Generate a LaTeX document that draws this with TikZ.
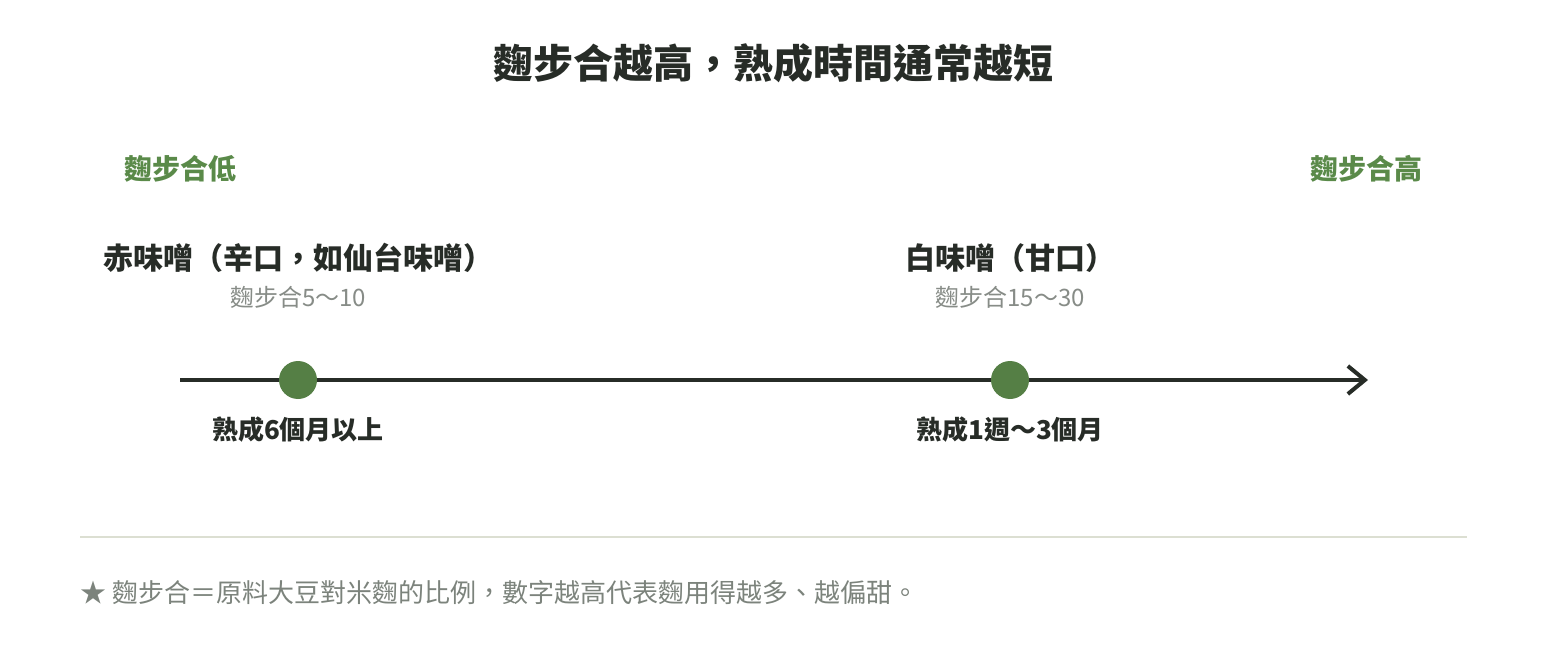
\documentclass[tikz,border=0pt]{standalone}
\usepackage{fontspec}
\setmainfont{Noto Sans CJK TC}
\usepackage{xcolor}
\usetikzlibrary{arrows.meta,positioning}

\definecolor{inkdark}{HTML}{272C27}
\definecolor{misogreen}{HTML}{5A8A49}
\definecolor{dotgreen}{HTML}{557F45}
\definecolor{softgray}{HTML}{878C87}
\definecolor{notegray}{HTML}{7C837C}
\definecolor{rulegray}{HTML}{DCDFD2}

\begin{document}
\begin{tikzpicture}[x=1pt,y=-1pt,on grid,node distance=50pt,
    dot/.style={circle,fill=dotgreen,minimum size=38pt,inner sep=0pt},
    axis/.style={line width=4pt,draw=inkdark,-{Straight Barb[length=17pt,width=28pt]}},
    headline/.style={text=inkdark,font=\fontsize{40pt}{48pt}\selectfont\bfseries},
    endlabel/.style={text=misogreen,font=\fontsize{28pt}{34pt}\selectfont\bfseries},
    miso/.style={text=inkdark,font=\fontsize{30pt}{36pt}\selectfont\bfseries},
    ratio/.style={text=softgray,font=\fontsize{24pt}{29pt}\selectfont},
    age/.style={text=inkdark,font=\fontsize{26pt}{31pt}\selectfont\bfseries},
    note/.style={text=notegray,inner sep=0pt,font=\fontsize{26pt}{31pt}\selectfont}]
    \useasboundingbox (0,0) rectangle (1546,660);
    \node[headline] (title) at (773,63) {麴步合越高，熟成時間通常越短};
    % axis
    \coordinate (a_start) at (180,380);
    \coordinate (a_end)   at (1368,380);
    \draw[axis] (a_start) -- (a_end);
    \node[dot] (d_red)   at (298,380)  {};
    \node[dot] (d_white) at (1010,380) {};
    % axis ends
    \node[endlabel] (low)  [above=211pt of a_start.center,anchor=center] {麴步合低};
    \node[endlabel] (high) [above=211pt of a_end.center,anchor=center,xshift=-2pt] {麴步合高};
    % red miso
    \node[miso]  (m_red)   [above=122pt of d_red] {赤味噌（辛口，如仙台味噌）};
    \node[ratio] (r_red)   [above=83pt of d_red]  {麴步合5～10};
    \node[age]   (g_red)   [below=50pt of d_red]  {熟成6個月以上};
    % white miso
    \node[miso]  (m_white) [above=122pt of d_white] {白味噌（甘口）};
    \node[ratio] (r_white) [above=83pt of d_white]  {麴步合15～30};
    \node[age]   (g_white) [below=50pt of d_white]  {熟成1週～3個月};
    % footnote
    \coordinate (s_left)  at (80,537);
    \coordinate (s_right) at (1467,537);
    \draw[rulegray,line width=2pt] (s_left) -- (s_right);
    \node[note] (fn) [below=56pt of s_left.center,anchor=west] {★ 麴步合＝原料大豆對米麴的比例，數字越高代表麴用得越多、越偏甜。};
\end{tikzpicture}
\end{document}
